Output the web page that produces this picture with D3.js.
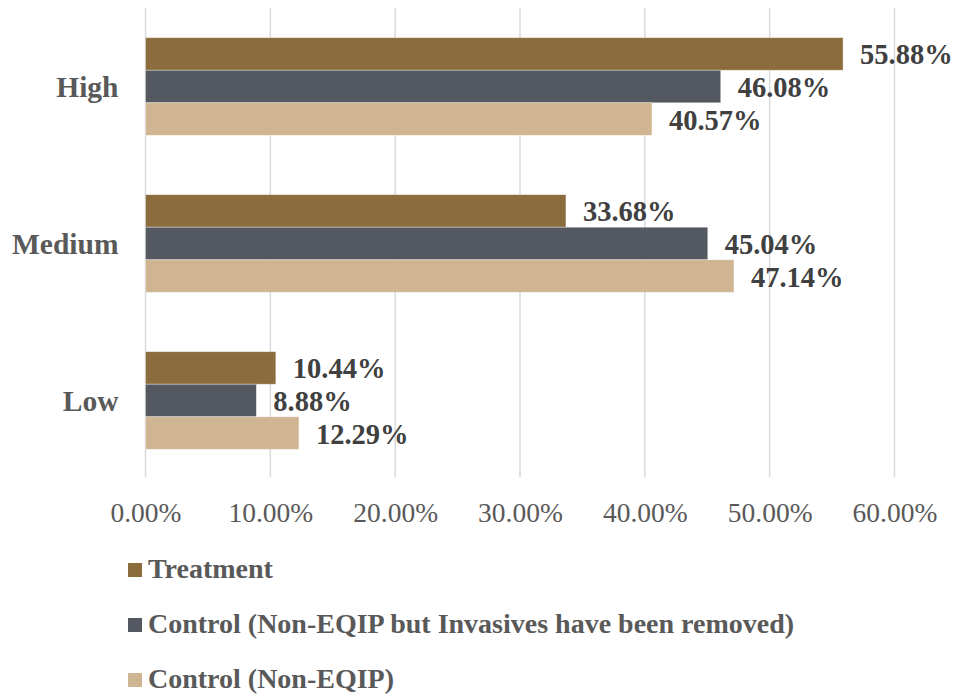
<!DOCTYPE html>
<html><head><meta charset="utf-8">
<script src="https://cdn.jsdelivr.net/npm/d3@7"></script>
<style>html,body{margin:0;padding:0;background:#fff;}svg{display:block;}</style>
</head><body>
<svg id="chart" width="955" height="697"></svg>
<script>
const categories = ["High", "Medium", "Low"];
const seriesNames = ["Treatment", "Control (Non-EQIP but Invasives have been removed)", "Control (Non-EQIP)"];
const treatment = [0.5588, 0.3368, 0.1044];
const controlRemoved = [0.4608, 0.4504, 0.0888];
const controlNonEqip = [0.4057, 0.4714, 0.1229];
const xTicks = [0, 0.1, 0.2, 0.3, 0.4, 0.5, 0.6];
const colors = ["#8B6D3D", "#545861", "#CFB591"];

const seriesValues = [treatment, controlRemoved, controlNonEqip];
const svg = d3.select("#chart");
const serif = "'Liberation Serif','Times New Roman',serif";

const x = d3.scaleLinear().domain([0, 0.6]).range([145.5, 894.5]);
const y = d3.scaleBand().domain(categories).range([8, 479]).paddingInner(0.378).paddingOuter(0.189);
const ySub = d3.scaleBand().domain(d3.range(seriesNames.length)).range([0, y.bandwidth()]);

// x axis labels
const xAxis = d3.axisBottom(x).tickValues(xTicks).tickFormat(d3.format(".2%")).tickSize(0);
const gx = svg.append("g").attr("transform", "translate(0,479)").call(xAxis);
gx.select(".domain").remove();
gx.selectAll("text").attr("font-family", serif).attr("font-size", 27.5).attr("fill", "#595959").attr("dy", 0).attr("y", 42.5);

// gridlines
svg.append("g").selectAll("line").data(xTicks).join("line")
  .attr("x1", d => x(d)).attr("x2", d => x(d))
  .attr("y1", 8).attr("y2", 477)
  .attr("stroke", "#D9D9D9").attr("stroke-width", 1.5);

// bars
const data = [];
categories.forEach((c, i) => seriesValues.forEach((s, j) => data.push({cat: c, s: j, v: s[i]})));

svg.append("g").selectAll("rect").data(data).join("rect")
  .attr("x", x(0))
  .attr("y", d => y(d.cat) + ySub(d.s))
  .attr("width", d => x(d.v) - x(0))
  .attr("height", ySub.bandwidth())
  .attr("fill", d => colors[d.s])
  .attr("stroke", "#ffffff").attr("stroke-opacity", 0.45).attr("stroke-width", 0.8);

// value labels
svg.append("g").selectAll("text").data(data).join("text")
  .attr("x", d => x(d.v) + 17)
  .attr("y", d => y(d.cat) + ySub(d.s) + ySub.bandwidth() / 2 + 10.5)
  .attr("font-family", serif).attr("font-weight", "bold").attr("font-size", 28.5)
  .attr("fill", "#404040")
  .text(d => d3.format(".2%")(d.v));

// category labels
svg.append("g").selectAll("text").data(categories).join("text")
  .attr("x", 118.5)
  .attr("y", d => y(d) + y.bandwidth() / 2 + 10)
  .attr("text-anchor", "end")
  .attr("font-family", serif).attr("font-weight", "bold").attr("font-size", 29.5)
  .attr("fill", "#595959")
  .text(d => d);

// legend
const leg = svg.append("g").selectAll("g").data(seriesNames).join("g")
  .attr("transform", (d, i) => `translate(128,${578 + i * 55})`);
leg.append("rect").attr("x", 0).attr("y", -15).attr("width", 14).attr("height", 14)
  .attr("fill", (d, i) => colors[i]);
leg.append("text").attr("x", 20).attr("y", 0)
  .attr("font-family", serif).attr("font-weight", "bold").attr("font-size", 28)
  .attr("fill", "#595959")
  .text(d => d);
</script>
</body></html>
